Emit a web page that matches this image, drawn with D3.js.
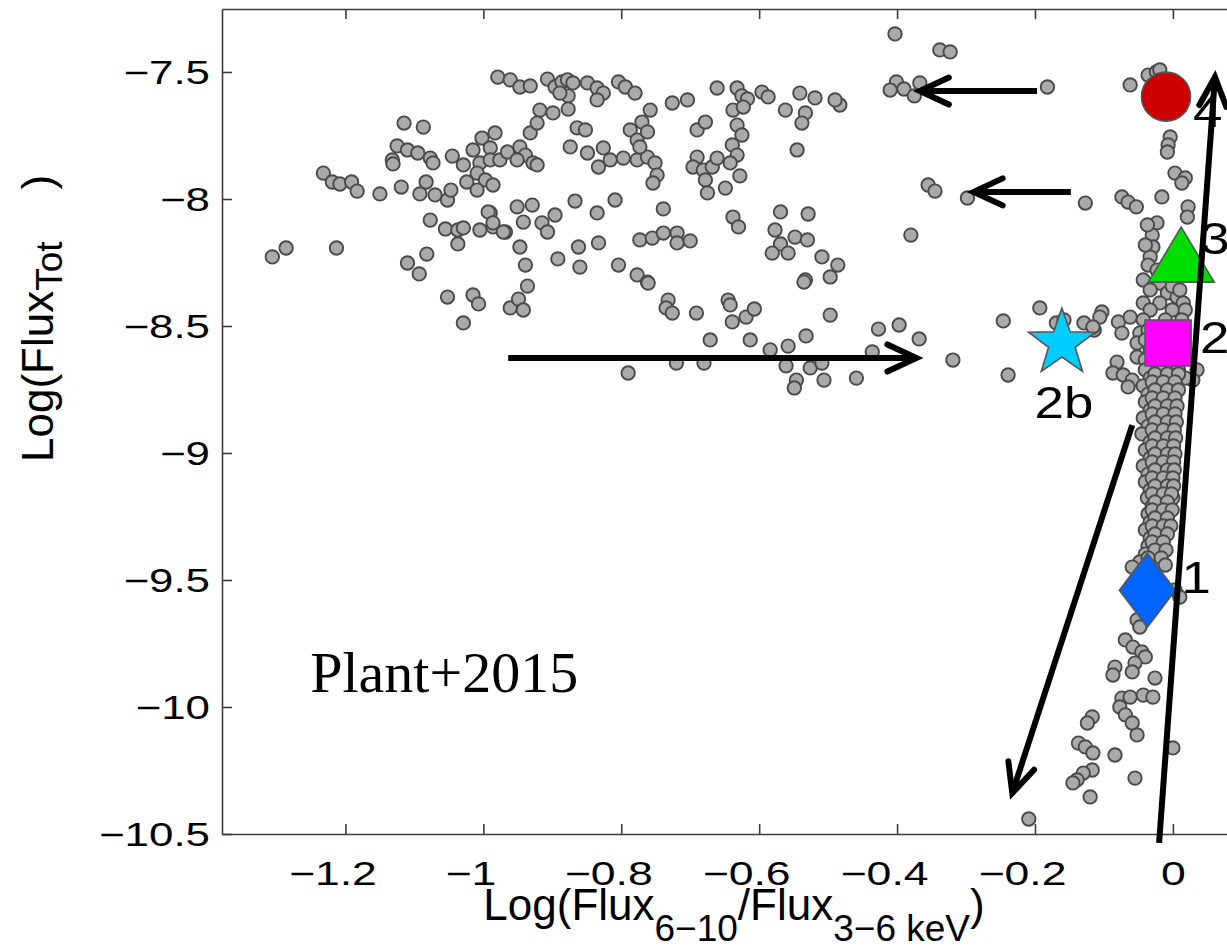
<!DOCTYPE html>
<html><head><meta charset="utf-8">
<script src="https://cdn.jsdelivr.net/npm/d3@7"></script>
<style>html,body{margin:0;padding:0;background:#fff;} svg{display:block;}</style>
</head><body>
<svg id="chart" width="1227" height="950"></svg>
<script>
// ---------- data ----------
const xTicks = [-1.2, -1, -0.8, -0.6, -0.4, -0.2, 0];
const yTicks = [-7.5, -8, -8.5, -9, -9.5, -10, -10.5];

// soft-state cloud: [log(F6-10/F3-6), log(Ftot)]
const softCloud = [
[-1.306,-8.228],[-1.286,-8.193],[-1.213,-8.193],[-1.232,-7.898],[-1.219,-7.933],[-1.208,-7.941],[-1.191,-7.933],[-1.183,-7.969],[-1.150,-7.980],[-1.119,-7.953],
[-1.115,-7.701],[-1.087,-7.717],[-1.125,-7.791],[-1.110,-7.807],[-1.132,-7.846],[-1.131,-7.862],[-1.095,-7.819],[-1.077,-7.839],[-1.073,-7.858],[-1.045,-7.831],
[-1.029,-7.866],[-1.083,-7.933],[-1.092,-7.980],[-1.070,-7.984],[-1.052,-8.004],[-1.047,-7.965],[-1.077,-8.083],[-1.055,-8.118],[-1.037,-8.122],[-1.029,-8.114],
[-1.037,-8.177],[-1.005,-8.122],[-0.990,-8.055],[-0.986,-8.110],[-0.968,-8.130],[-1.110,-8.252],[-1.093,-8.295],[-1.082,-8.217],[-1.052,-8.386],[-1.015,-8.378],
[-1.029,-8.488],[-1.007,-8.413],[-0.961,-8.429],[-0.949,-8.394],[-0.942,-8.437],[-0.936,-8.343],
[-1.002,-7.760],[-0.983,-7.740],[-1.015,-7.807],[-0.990,-7.799],[-1.005,-7.858],[-0.990,-7.846],[-0.976,-7.846],[-1.009,-7.898],[-0.997,-7.925],[-0.986,-7.945],
[-1.024,-7.933],[-1.009,-7.965],[-0.965,-7.815],[-0.947,-7.795],[-0.939,-7.827],[-0.928,-7.858],[-0.922,-7.866],[-0.951,-7.846],
[-0.979,-7.520],[-0.961,-7.531],[-0.947,-7.559],[-0.932,-7.555],[-0.907,-7.528],[-0.896,-7.559],[-0.886,-7.539],[-0.878,-7.531],[-0.870,-7.543],[-0.849,-7.543],
[-0.835,-7.563],[-0.826,-7.583],[-0.835,-7.610],[-0.877,-7.594],[-0.889,-7.583],[-0.804,-7.539],[-0.794,-7.559],[-0.780,-7.583],
[-0.918,-7.650],[-0.899,-7.661],[-0.877,-7.646],[-0.932,-7.740],[-0.922,-7.701],[-0.864,-7.720],[-0.852,-7.728],[-0.874,-7.795],[-0.849,-7.819],[-0.826,-7.799],
[-0.833,-7.874],[-0.816,-7.846],[-0.797,-7.839],[-0.777,-7.846],[-0.762,-7.835],[-0.751,-7.858],[-0.748,-7.906],[-0.754,-7.937],
[-0.787,-7.728],[-0.777,-7.768],[-0.770,-7.697],[-0.762,-7.736],[-0.758,-7.650],[-0.773,-7.795],
[-0.993,-8.051],[-0.986,-8.094],[-0.971,-8.130],[-0.951,-8.031],[-0.929,-8.024],[-0.942,-8.091],[-0.915,-8.094],[-0.896,-8.063],[-0.907,-8.130],
[-0.947,-8.189],[-0.939,-8.260],[-0.867,-8.008],[-0.835,-8.055],[-0.809,-8.004],[-0.739,-8.039],
[-0.892,-8.236],[-0.862,-8.189],[-0.860,-8.268],[-0.833,-8.173],[-0.804,-8.260],[-0.777,-8.299],[-0.762,-8.327],
[-0.773,-8.161],[-0.755,-8.154],[-0.739,-8.134],[-0.719,-8.134],[-0.719,-8.173],[-0.700,-8.165],[-0.732,-8.398],[-0.645,-8.398],
[-0.726,-7.622],[-0.704,-7.610],[-0.661,-7.563],[-0.632,-7.563],[-0.625,-7.594],[-0.617,-7.606],[-0.596,-7.579],[-0.587,-7.598],[-0.541,-7.583],[-0.519,-7.602],
[-0.562,-7.650],[-0.533,-7.661],[-0.538,-7.701],[-0.483,-7.630],[-0.490,-7.610],
[-0.690,-7.728],[-0.678,-7.697],[-0.638,-7.650],[-0.623,-7.638],[-0.632,-7.709],[-0.625,-7.748],[-0.639,-7.787],[-0.632,-7.827],[-0.642,-7.858],
[-0.690,-7.835],[-0.696,-7.874],[-0.681,-7.886],[-0.668,-7.874],[-0.661,-7.839],[-0.678,-7.925],[-0.675,-7.976],[-0.649,-7.957],[-0.628,-7.909],[-0.545,-7.807],
[-0.638,-8.071],[-0.630,-8.110],[-0.569,-8.051],[-0.529,-8.059],[-0.577,-8.122],[-0.569,-8.177],[-0.581,-8.213],[-0.558,-8.213],[-0.548,-8.150],[-0.530,-8.161],
[-0.509,-8.228],[-0.486,-8.260],[-0.497,-8.307],[-0.533,-8.319],
[-0.761,-8.331],[-0.535,-8.327],[-0.735,-8.429],[-0.726,-8.449],[-0.691,-8.449],[-0.642,-8.417],[-0.639,-8.484],[-0.619,-8.465],[-0.607,-8.433],[-0.497,-8.457],
[-0.671,-8.555],[-0.613,-8.555],[-0.584,-8.594],[-0.558,-8.579],[-0.532,-8.539],[-0.427,-8.512],[-0.397,-8.496],[-0.368,-8.551],[-0.436,-8.602],
[-0.790,-8.685],[-0.720,-8.646],[-0.680,-8.646],[-0.561,-8.657],[-0.526,-8.665],[-0.509,-8.646],[-0.546,-8.713],[-0.549,-8.744],[-0.506,-8.713],[-0.459,-8.705]
];

// transition / intermediate points
const transitionPts = [
[-0.403,-7.350],[-0.338,-7.413],[-0.323,-7.421],[-0.401,-7.539],[-0.410,-7.571],[-0.390,-7.567],[-0.375,-7.594],[-0.367,-7.543],[-0.182,-7.559],
[-0.355,-7.945],[-0.345,-7.969],[-0.298,-7.996],[-0.380,-8.142],[-0.127,-8.016],[-0.074,-7.992],[-0.065,-8.012],[-0.053,-8.031],[-0.016,-7.992],
[-0.062,-7.551],[-0.036,-7.512],[-0.024,-7.500],[-0.019,-7.492],[-0.004,-7.756],[-0.007,-7.787],[-0.008,-7.815],[0.003,-7.898],[0.018,-7.917],[0.013,-7.937],
[-0.319,-8.634],[-0.246,-8.480],[-0.239,-8.693],[-0.193,-8.429],[-0.169,-8.488],[-0.158,-8.476],[-0.129,-8.488],[-0.114,-8.516],[-0.103,-8.445],
[-0.079,-8.484],[-0.062,-8.465],[-0.074,-8.528],[-0.106,-8.465],[-0.116,-8.504],[-0.048,-8.528],[-0.052,-8.567],[-0.052,-8.622],[-0.081,-8.642],
[-0.087,-8.685],[-0.072,-8.693],[-0.059,-8.713],[-0.065,-8.740],[0.035,-8.673],[0.029,-8.713]
];

// hard-state column
const hardColumn = [
[0.022,-8.031],[0.021,-8.071],[-0.023,-8.094],[-0.030,-8.142],[-0.029,-8.189],[-0.033,-8.228],[-0.036,-8.260],[-0.023,-8.280],[-0.019,-8.331],[-0.008,-8.370],
[0.006,-8.386],[-0.043,-8.409],[-0.019,-8.409],[0.015,-8.409],[-0.040,-8.181],[-0.043,-8.319],[-0.033,-8.358],[-0.001,-8.343],[0.010,-8.358],[-0.037,-8.102],
[-0.033,-8.437],[-0.001,-8.437],[0.018,-8.437],[-0.043,-8.476],[-0.011,-8.476],[0.013,-8.476],[-0.036,-8.516],[0.003,-8.516],[-0.040,-8.555],[0.010,-8.555],
[-0.033,-8.594],[0.015,-8.594],[-0.040,-8.634],[0.003,-8.634],[-0.040,-8.673],[-0.019,-8.673],[0.008,-8.673],[-0.033,-8.705],[-0.004,-8.705],[0.018,-8.705],
[-0.043,-8.736],[-0.016,-8.736],[0.005,-8.736],[-0.036,-8.768],[-0.007,-8.768],[-0.040,-8.799],[-0.019,-8.799],[0.002,-8.799],[-0.033,-8.831],[-0.004,-8.831],
[-0.043,-8.862],[-0.021,-8.862],[0.000,-8.862],[-0.036,-8.894],[-0.010,-8.894],[-0.045,-8.925],[-0.019,-8.925],[-0.001,-8.925],[-0.033,-8.957],[-0.007,-8.957],
[-0.040,-8.988],[-0.021,-8.988],[-0.004,-8.988],[-0.033,-9.020],[-0.011,-9.020],[-0.043,-9.051],[-0.021,-9.051],[-0.001,-9.051],[-0.036,-9.083],[-0.011,-9.083],
[-0.040,-9.114],[-0.019,-9.114],[-0.004,-9.114],[-0.033,-9.146],[-0.010,-9.146],[-0.037,-9.177],[-0.019,-9.177],[0.000,-9.177],[-0.030,-9.209],[-0.007,-9.209],
[-0.036,-9.240],[-0.016,-9.240],[-0.033,-9.272],[-0.010,-9.272],[-0.040,-9.303],[-0.019,-9.303],[-0.033,-9.335],[-0.013,-9.335],[-0.036,-9.366],[-0.019,-9.366],
[-0.040,-9.398],[-0.021,-9.398],[-0.048,-9.429],[-0.026,-9.429],
[-0.026,-8.689],[-0.008,-8.689],[0.008,-8.689],[-0.030,-8.720],[-0.014,-8.720],[0.003,-8.720],[-0.026,-8.752],[-0.008,-8.752],[0.008,-8.752],
[-0.030,-8.783],[-0.014,-8.783],[0.003,-8.783],[-0.026,-8.815],[-0.008,-8.815],[0.006,-8.815],[-0.030,-8.846],[-0.014,-8.846],[0.003,-8.846],
[-0.026,-8.878],[-0.008,-8.878],[0.005,-8.878],[-0.030,-8.909],[-0.014,-8.909],[0.002,-8.909],[-0.026,-8.941],[-0.008,-8.941],[0.004,-8.941],
[-0.030,-8.972],[-0.014,-8.972],[0.001,-8.972],[-0.026,-9.004],[-0.008,-9.004],[0.003,-9.004],[-0.030,-9.035],[-0.014,-9.035],[0.001,-9.035],
[-0.026,-9.067],[-0.008,-9.067],[0.002,-9.067],[-0.030,-9.098],[-0.014,-9.098],[0.000,-9.098],[-0.026,-9.130],[-0.008,-9.130],[0.001,-9.130],
[-0.030,-9.161],[-0.014,-9.161],[-0.002,-9.161],[-0.026,-9.193],[-0.008,-9.193],[-0.030,-9.224],[-0.014,-9.224],[-0.001,-9.224],
[-0.026,-9.256],[-0.008,-9.256],[-0.030,-9.287],[-0.014,-9.287],[-0.003,-9.287],[-0.026,-9.319],[-0.008,-9.319],
[-0.030,-9.350],[-0.014,-9.350],[-0.026,-9.382],[-0.010,-9.382],[-0.036,-9.413],[-0.017,-9.413],
[-0.059,-9.449],[-0.011,-9.441],[-0.048,-9.480],[0.003,-9.539],[0.010,-9.567],[-0.033,-9.618],[-0.052,-9.657],[-0.048,-9.685],
[-0.069,-9.736],[-0.058,-9.764],[-0.045,-9.783],[-0.040,-9.803],[-0.055,-9.827],[-0.059,-9.862],[-0.084,-9.843],[-0.087,-9.874],[-0.026,-9.886],
[-0.074,-9.965],[-0.062,-9.961],[-0.043,-9.953],[-0.029,-9.961],[-0.077,-10.000],[-0.069,-10.031],[-0.059,-10.063],[-0.052,-10.110],
[-0.117,-10.039],[-0.124,-10.063],[-0.137,-10.142],[-0.127,-10.157],[-0.116,-10.181],[-0.084,-10.189],[0.000,-10.161],
[-0.117,-10.248],[-0.130,-10.260],[-0.139,-10.287],[-0.145,-10.299],[-0.120,-10.354],[-0.055,-10.280],[-0.209,-10.441]
];

// highlighted states
const stateNames  = ["4", "3", "2", "2b", "1"];
const stateX      = [-0.010, 0.012, -0.007, -0.161, -0.037];
const stateY      = [-7.597, -8.217, -8.567, -8.567, -9.540];

// arrows (data coordinates): tail -> head
const arrowTailX = [-0.197, -0.148, -0.964, -0.059, -0.020];
const arrowTailY = [-7.575, -7.972, -8.626, -8.890, -10.535];
const arrowHeadX = [-0.367, -0.289, -0.372, -0.233, 0.061];
const arrowHeadY = [-7.575, -7.972, -8.626, -10.339, -7.520];

const annotation = {text: "Plant+2015", x: -1.251, y: -9.941};

// ---------- drawing ----------
const svg = d3.select("#chart");
svg.append("rect").attr("width",1227).attr("height",950).attr("fill","#fff");

const x = d3.scaleLinear().domain([-1.379, 0.106]).range([222, 1246]);
const y = d3.scaleLinear().domain([-10.5, -7.252]).range([834, 9]);

const axisColor = "#3c3c3c";
const sans = "'Liberation Sans', Arial, Helvetica, sans-serif";
const fmt = d => (d < 0 ? "\u2212" : "") + Math.abs(d);

function styleAxis(g) {
  g.attr("font-family", sans).attr("font-size", 33);
  g.select(".domain").attr("stroke", axisColor).attr("stroke-width", 1.6);
  g.selectAll(".tick line").attr("stroke", axisColor).attr("stroke-width", 1.6);
}

// bottom axis
const gx = svg.append("g").attr("transform", `translate(0,${y(-10.5)})`)
  .call(d3.axisBottom(x).tickValues(xTicks).tickSizeInner(-10).tickSizeOuter(0).tickFormat(fmt));
styleAxis(gx);
gx.selectAll(".tick text").attr("y", 0).attr("dy", 0).attr("fill", "#000")
  .attr("transform", d => `translate(${d < 0 ? -13 : 0},51) scale(1.35,1)`);

// top axis (box)
const gt = svg.append("g").attr("transform", `translate(0,${y(-7.252)})`)
  .call(d3.axisTop(x).tickValues(xTicks).tickSizeInner(-10).tickSizeOuter(0).tickFormat(""));
styleAxis(gt);

// left axis
const gy = svg.append("g").attr("transform", `translate(${x(-1.379)},0)`)
  .call(d3.axisLeft(y).tickValues(yTicks).tickSizeInner(-10).tickSizeOuter(0).tickFormat(fmt));
styleAxis(gy);
gy.selectAll(".tick text").attr("x", 0).attr("dy", "0.36em").attr("fill", "#000")
  .attr("text-anchor", "end").attr("transform", "translate(-12,0) scale(1.33,1)");

// right axis (box)
const gr = svg.append("g").attr("transform", `translate(${x(0.106)},0)`)
  .call(d3.axisRight(y).tickValues(yTicks).tickSizeInner(-10).tickSizeOuter(0).tickFormat(""));
styleAxis(gr);

// axis titles
const xt = svg.append("text").attr("x", (x.range()[0] + x.range()[1]) / 2).attr("y", 920)
  .attr("text-anchor", "middle").attr("font-family", sans).attr("font-size", 44).attr("fill", "#000");
xt.append("tspan").text("Log(Flux");
xt.append("tspan").attr("font-size", 37).attr("dy", 21).text("6\u221210");
xt.append("tspan").attr("dy", -21).text("/Flux");
xt.append("tspan").attr("font-size", 37).attr("dy", 21).text("3\u22126 keV");
xt.append("tspan").attr("dy", -21).text(")");

const yt = svg.append("text").attr("transform", "translate(53,462) rotate(-90)")
  .attr("font-family", sans).attr("font-size", 44).attr("fill", "#000");
yt.append("tspan").text("Log(Flux");
yt.append("tspan").attr("font-size", 37).attr("dy", 9).text("Tot");
yt.append("tspan").attr("dy", -9).attr("dx", 52).text(")");

// scatter points
const ptGroup = svg.append("g");
[softCloud, transitionPts, hardColumn].forEach(arr => {
  ptGroup.selectAll(null).data(arr).enter().append("circle")
    .attr("cx", d => x(d[0])).attr("cy", d => y(d[1])).attr("r", 6.7)
    .attr("fill", "#aaaaaa").attr("stroke", "#4a4a4a").attr("stroke-width", 1.9);
});

// state markers
const markerStyle = {
  "4":  {shape: "circle",   fill: "#cc0000", lx: 27,  ly: 30, anchor: "start"},
  "3":  {shape: "triangle", fill: "#00dd00", lx: 19,  ly: 0,  anchor: "start"},
  "2":  {shape: "square",   fill: "#ff00ff", lx: 32,  ly: 10, anchor: "start"},
  "2b": {shape: "star",     fill: "#00ccff", lx: 2,   ly: 75, anchor: "middle"},
  "1":  {shape: "diamond",  fill: "#0064ff", lx: 34,  ly: 3,  anchor: "start"}
};
function shapePath(shape, cx, cy) {
  const p = d3.path();
  if (shape === "circle") { p.arc(cx, cy, 24.5, 0, 2 * Math.PI); }
  else if (shape === "triangle") { p.moveTo(cx, cy - 27); p.lineTo(cx + 33, cy + 28); p.lineTo(cx - 33, cy + 28); p.closePath(); }
  else if (shape === "square") { p.rect(cx - 23, cy - 23, 46, 46); }
  else if (shape === "diamond") { p.moveTo(cx, cy - 37); p.lineTo(cx + 28, cy); p.lineTo(cx, cy + 37); p.lineTo(cx - 28, cy); p.closePath(); }
  else if (shape === "star") {
    const R = 35, r = 14;
    for (let i = 0; i < 10; i++) {
      const a = -Math.PI / 2 + i * Math.PI / 5, rad = i % 2 ? r : R;
      const px = cx + rad * Math.cos(a), py = cy + rad * Math.sin(a);
      i ? p.lineTo(px, py) : p.moveTo(px, py);
    }
    p.closePath();
  }
  return p.toString();
}
const states = stateNames.map((n, i) => ({name: n, x: stateX[i], y: stateY[i]}));
svg.append("g").selectAll("path").data(states).enter().append("path")
  .attr("d", d => shapePath(markerStyle[d.name].shape, x(d.x), y(d.y)))
  .attr("fill", d => markerStyle[d.name].fill).attr("stroke", "#555").attr("stroke-width", 1.6);

// arrows
const arrows = arrowTailX.map((v, i) => ({x1: arrowTailX[i], y1: arrowTailY[i], x2: arrowHeadX[i], y2: arrowHeadY[i]}));
const ag = svg.append("g");
arrows.forEach(a => {
  const X1 = x(a.x1), Y1 = y(a.y1), X2 = x(a.x2), Y2 = y(a.y2);
  ag.append("line").attr("x1", X1).attr("y1", Y1).attr("x2", X2).attr("y2", Y2)
    .attr("stroke", "#000").attr("stroke-width", 6);
  const ang = Math.atan2(Y1 - Y2, X1 - X2), L = 32, h = 25 * Math.PI / 180;
  const p = d3.path();
  p.moveTo(X2 + L * Math.cos(ang + h), Y2 + L * Math.sin(ang + h));
  p.lineTo(X2, Y2);
  p.lineTo(X2 + L * Math.cos(ang - h), Y2 + L * Math.sin(ang - h));
  ag.append("path").attr("d", p.toString()).attr("fill", "none").attr("stroke", "#000")
    .attr("stroke-width", 6).attr("stroke-linecap", "round").attr("stroke-linejoin", "miter");
});

// state labels
svg.append("g").selectAll("text").data(states).enter().append("text")
  .attr("transform", d => `translate(${x(d.x) + markerStyle[d.name].lx},${y(d.y) + markerStyle[d.name].ly}) scale(1.2,1)`)
  .attr("text-anchor", d => markerStyle[d.name].anchor)
  .attr("font-family", sans).attr("font-size", 44).attr("fill", "#000")
  .text(d => d.name);

// annotation
svg.append("text").attr("x", x(annotation.x)).attr("y", y(annotation.y))
  .attr("font-family", "'Liberation Serif', 'Times New Roman', serif").attr("font-size", 58).attr("fill", "#000")
  .text(annotation.text);
</script>
</body></html>
